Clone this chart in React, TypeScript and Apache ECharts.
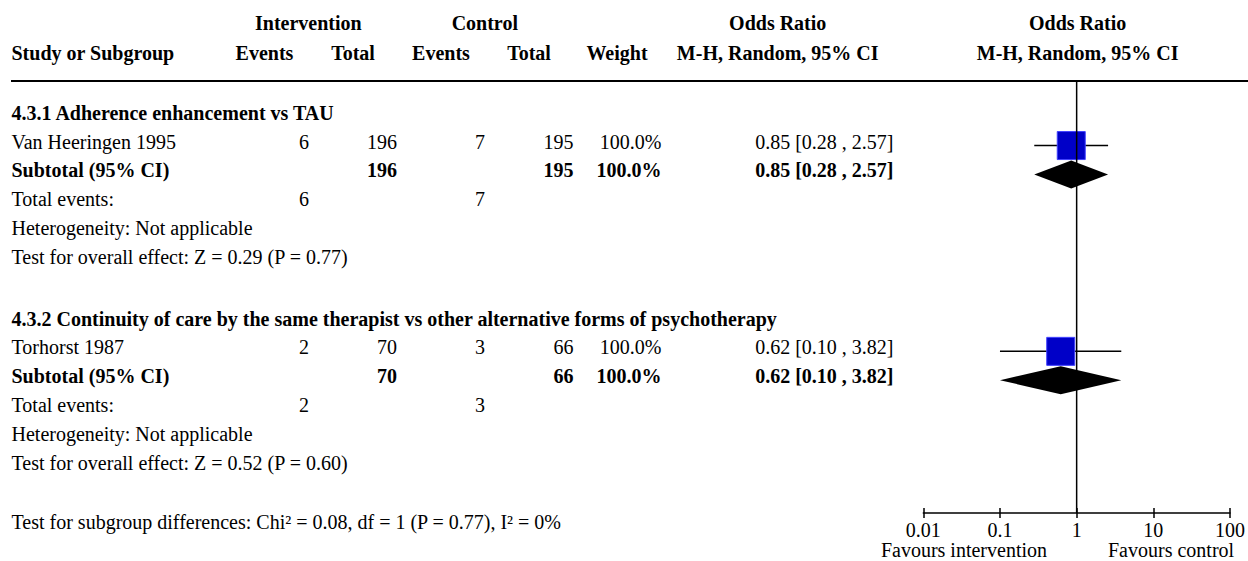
import React, { useEffect, useRef } from "react";
import * as echarts from "echarts";

// ---------------- data ----------------
const headerTop = ["Intervention", "Control", "Odds Ratio", "Odds Ratio"];
const headerCols = ["Study or Subgroup", "Events", "Total", "Events", "Total", "Weight", "M-H, Random, 95% CI", "M-H, Random, 95% CI"];
const subgroupTitles = [
  "4.3.1 Adherence enhancement vs TAU",
  "4.3.2 Continuity of care by the same therapist vs other alternative forms of psychotherapy",
];
const studyNames = ["Van Heeringen 1995", "Torhorst 1987"];
const intEvents = [6, 2];
const intTotals = [196, 70];
const ctlEvents = [7, 3];
const ctlTotals = [195, 66];
const weights = [100.0, 100.0];
const oddsRatios = [0.85, 0.62];
const ciLower = [0.28, 0.1];
const ciUpper = [2.57, 3.82];
const subtotalWeights = [100.0, 100.0];
const subtotalOR = [0.85, 0.62];
const subtotalLower = [0.28, 0.1];
const subtotalUpper = [2.57, 3.82];
const zValues = ["0.29", "0.52"];
const pValues = ["0.77", "0.60"];
const heterogeneity = ["Not applicable", "Not applicable"];
const subgroupTest = "Test for subgroup differences: Chi² = 0.08, df = 1 (P = 0.77), I² = 0%";
const tickLabels = ["0.01", "0.1", "1", "10", "100"];
const favourLabels = ["Favours intervention", "Favours control"];

// ---------------- layout ----------------
const W = 1248;
const H = 561;
const FONT = '"Liberation Serif", "Times New Roman", serif';
const FS = 20;
const LINE_Y = 81;
const AXIS_Y = 513;
const PLOT_L = 923.3;
const PLOT_R = 1232.3;
const GROUP_TOP = [112.7, 318.5];
const ROW = 28.85;
const MARK_DY = 4;
const HEAD1_Y = 23;
const HEAD2_Y = 53;
const COL = {
  name: 11.5,
  intEv: 309,
  intTot: 397,
  ctlEv: 485,
  ctlTot: 573.5,
  weight: 661.5,
  ci: 893.5,
};
const HEAD_CENTERS = [264.5, 353, 441, 529, 617, 777.7, 1077.6];
const TOP_CENTERS = [308.3, 484.8, 777.7, 1077.6];

const fmt2 = (v: number) => v.toFixed(2);
const ciText = (o: number, l: number, u: number) => `${fmt2(o)} [${fmt2(l)} , ${fmt2(u)}]`;

function txt(text: string, x: number, y: number, align: string, bold = false) {
  return {
    type: "text",
    x,
    y,
    silent: true,
    style: {
      text,
      fill: "#000",
      fontFamily: FONT,
      fontSize: FS,
      fontWeight: bold ? "bold" : "normal",
      align,
      verticalAlign: "middle",
    },
  };
}

function buildGraphics() {
  const g: any[] = [];
  headerTop.forEach((h, i) => g.push(txt(h, TOP_CENTERS[i], HEAD1_Y, "center", true)));
  g.push(txt(headerCols[0], COL.name, HEAD2_Y, "left", true));
  for (let i = 1; i < headerCols.length; i++) g.push(txt(headerCols[i], HEAD_CENTERS[i - 1], HEAD2_Y, "center", true));
  g.push({
    type: "line",
    silent: true,
    shape: { x1: 11, y1: LINE_Y, x2: W, y2: LINE_Y },
    style: { stroke: "#000", lineWidth: 2 },
  });

  subgroupTitles.forEach((title, k) => {
    const y0 = GROUP_TOP[k];
    const y = (r: number) => y0 + r * ROW;
    g.push(txt(title, COL.name, y(0), "left", true));
    g.push(txt(studyNames[k], COL.name, y(1), "left"));
    g.push(txt(String(intEvents[k]), COL.intEv, y(1), "right"));
    g.push(txt(String(intTotals[k]), COL.intTot, y(1), "right"));
    g.push(txt(String(ctlEvents[k]), COL.ctlEv, y(1), "right"));
    g.push(txt(String(ctlTotals[k]), COL.ctlTot, y(1), "right"));
    g.push(txt(weights[k].toFixed(1) + "%", COL.weight, y(1), "right"));
    g.push(txt(ciText(oddsRatios[k], ciLower[k], ciUpper[k]), COL.ci, y(1), "right"));
    g.push(txt("Subtotal (95% CI)", COL.name, y(2), "left", true));
    g.push(txt(String(intTotals[k]), COL.intTot, y(2), "right", true));
    g.push(txt(String(ctlTotals[k]), COL.ctlTot, y(2), "right", true));
    g.push(txt(subtotalWeights[k].toFixed(1) + "%", COL.weight, y(2), "right", true));
    g.push(txt(ciText(subtotalOR[k], subtotalLower[k], subtotalUpper[k]), COL.ci, y(2), "right", true));
    g.push(txt("Total events:", COL.name, y(3), "left"));
    g.push(txt(String(intEvents[k]), COL.intEv, y(3), "right"));
    g.push(txt(String(ctlEvents[k]), COL.ctlEv, y(3), "right"));
    g.push(txt("Heterogeneity: " + heterogeneity[k], COL.name, y(4), "left"));
    g.push(txt(`Test for overall effect: Z = ${zValues[k]} (P = ${pValues[k]})`, COL.name, y(5), "left"));
  });

  g.push(txt(subgroupTest, COL.name, 522, "left"));
  g.push(txt(favourLabels[0], 1047, 550, "right"));
  g.push(txt(favourLabels[1], 1108, 550, "left"));
  return g;
}

function buildForestData() {
  const d: number[][] = [];
  subgroupTitles.forEach((_, k) => {
    const y0 = GROUP_TOP[k];
    d.push([oddsRatios[k], y0 + ROW + MARK_DY - LINE_Y, ciLower[k], ciUpper[k], 0, weights[k]]);
    d.push([subtotalOR[k], y0 + 2 * ROW + MARK_DY - LINE_Y, subtotalLower[k], subtotalUpper[k], 1, subtotalWeights[k]]);
  });
  return d;
}

export default function App() {
  const ref = useRef<HTMLDivElement>(null);
  useEffect(() => {
    if (!ref.current) return;
    const chart = echarts.init(ref.current, undefined, { renderer: "svg" });
    const axisLabel = {
      fontFamily: FONT,
      fontSize: FS,
      color: "#000",
      margin: 7,
      formatter: (v: number) => tickLabels[Math.round(Math.log10(v)) + 2] ?? "",
    };
    chart.setOption({
      animation: false,
      backgroundColor: "#fff",
      grid: { left: PLOT_L, right: W - PLOT_R, top: LINE_Y, bottom: H - AXIS_Y, containLabel: false },
      xAxis: [
        {
          type: "log",
          logBase: 10,
          min: 0.01,
          max: 100,
          position: "bottom",
          axisLine: { show: true, onZero: false, lineStyle: { color: "#000", width: 1.5 } },
          axisTick: { show: true, inside: true, length: 5, lineStyle: { color: "#000", width: 1.5 } },
          axisLabel,
          splitLine: { show: false },
          minorTick: { show: false },
        },
        {
          type: "log",
          logBase: 10,
          min: 0.01,
          max: 100,
          position: "bottom",
          offset: 0,
          axisLine: { show: false, onZero: false },
          axisTick: { show: true, inside: false, length: 5, lineStyle: { color: "#000", width: 1.5 } },
          axisLabel: { show: false },
          splitLine: { show: false },
        },
      ],
      yAxis: { type: "value", min: 0, max: AXIS_Y - LINE_Y, inverse: true, show: false },
      graphic: buildGraphics(),
      series: [
        {
          type: "custom",
          xAxisIndex: 0,
          z: 2,
          data: buildForestData(),
          renderItem: (params: any, api: any) => {
            const est = api.value(0);
            const y = api.value(1);
            const lo = api.value(2);
            const hi = api.value(3);
            const kind = api.value(4);
            const w = api.value(5);
            const c = api.coord([est, y]);
            const pl = api.coord([lo, y]);
            const ph = api.coord([hi, y]);
            if (kind === 0) {
              const s = 28 * Math.sqrt(w / 100);
              return {
                type: "group",
                children: [
                  {
                    type: "line",
                    shape: { x1: pl[0], y1: c[1], x2: ph[0], y2: c[1] },
                    style: { stroke: "#000", lineWidth: 1.5 },
                  },
                  {
                    type: "rect",
                    shape: { x: c[0] - s / 2, y: c[1] - s / 2, width: s, height: s },
                    style: { fill: "#0000C8", stroke: "#4040FF", lineWidth: 1 },
                  },
                ],
              };
            }
            return {
              type: "polygon",
              shape: {
                points: [
                  [pl[0], c[1]],
                  [c[0], c[1] - 14],
                  [ph[0], c[1]],
                  [c[0], c[1] + 14],
                ],
              },
              style: { fill: "#000" },
            };
          },
        },
        {
          type: "custom",
          xAxisIndex: 0,
          z: 5,
          data: [[1, 0, AXIS_Y - LINE_Y]],
          renderItem: (params: any, api: any) => {
            const a = api.coord([api.value(0), api.value(1)]);
            const b = api.coord([api.value(0), api.value(2)]);
            return {
              type: "line",
              shape: { x1: a[0], y1: a[1], x2: b[0], y2: b[1] },
              style: { stroke: "#000", lineWidth: 1.5 },
            };
          },
        },
      ],
    });
    return () => chart.dispose();
  }, []);
  return (
    <div
      ref={ref}
      style={{ position: "absolute", left: 0, top: 0, width: W, height: H, background: "#fff" }}
    />
  );
}
